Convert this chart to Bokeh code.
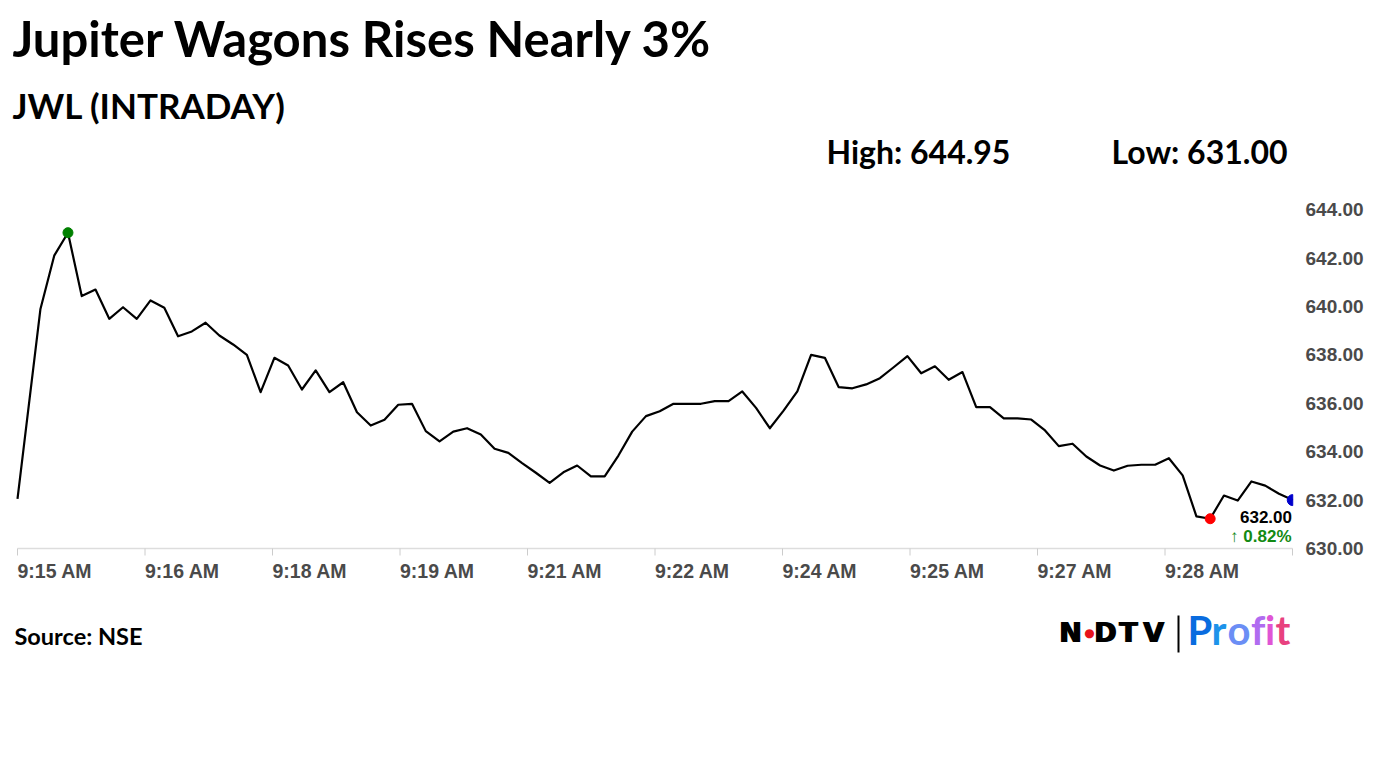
import math
from bokeh.plotting import figure
from bokeh.models import Range1d, Label, LabelSet, ColumnDataSource, Arrow
from bokeh.core.properties import value
from bokeh.embed import file_html
from bokeh.resources import INLINE

# ---------------- data ----------------
title_text = "Jupiter Wagons Rises Nearly 3%"
subtitle_text = "JWL (INTRADAY)"
high_text = "High: 644.95"
low_text = "Low: 631.00"
source_text = "Source: NSE"
last_price_text = "632.00"
change_text = "\u2191 0.82%"

prices = [
    632.05, 639.90, 642.10, 643.05, 640.43, 640.70, 639.49, 639.97, 639.49, 640.25,
    639.95, 638.77, 638.97, 639.33, 638.80, 638.43, 638.00, 636.46, 637.88, 637.56,
    636.57, 637.36, 636.46, 636.87, 635.63, 635.08, 635.32, 635.94, 635.98, 634.85,
    634.43, 634.83, 634.97, 634.71, 634.12, 633.95, 633.53, 633.13, 632.71, 633.15,
    633.43, 632.98, 632.98, 633.84, 634.83, 635.47, 635.67, 635.98, 635.98, 635.98,
    636.09, 636.09, 636.49, 635.81, 634.97, 635.70, 636.49, 638.00, 637.88, 636.67,
    636.62, 636.78, 637.04, 637.49, 637.95, 637.24, 637.53, 636.97, 637.29, 635.84,
    635.84, 635.38, 635.38, 635.33, 634.88, 634.23, 634.33, 633.80, 633.43, 633.22,
    633.42, 633.46, 633.46, 633.73, 633.02, 631.33, 631.23, 632.19, 631.98, 632.77,
    632.60, 632.26, 632.00,
]
# seconds after 9:15:00 (first tick after the open, then a regular sampling interval)
first_gap_s = 16.2
step_s = 9.714
secs = [0.0] + [first_gap_s + step_s * k for k in range(len(prices) - 1)]

tick_secs = [0, 90, 180, 270, 360, 450, 540, 630, 720, 810, 900]
tick_labels = ["9:15 AM", "9:16 AM", "9:18 AM", "9:19 AM", "9:21 AM",
               "9:22 AM", "9:24 AM", "9:25 AM", "9:27 AM", "9:28 AM"]
y_ticks = [630, 632, 634, 636, 638, 640, 642, 644]

# ---------------- layout constants (page pixels) ----------------
W, H = 1376, 700
PLOT_L, PLOT_R = 17, 1292          # page x of first / last time
PLOT_B = 548                       # page y of 630.00
PX_PER_UNIT = 24.2                 # vertical pixels per rupee
px_per_s = (PLOT_R - PLOT_L) / (tick_secs[-1] - tick_secs[0])
y0 = y_ticks[0]

x_range = Range1d(tick_secs[0] - PLOT_L / px_per_s, tick_secs[0] + (W - PLOT_L) / px_per_s)
y_range = Range1d(y0 - (H - PLOT_B) / PX_PER_UNIT, y0 + PLOT_B / PX_PER_UNIT)

p = figure(width=W, height=H, output_backend="svg", toolbar_location=None,
           x_range=x_range, y_range=y_range,
           x_axis_location=None, y_axis_location=None, min_border=0)
p.title.visible = False
p.outline_line_color = None
p.grid.visible = False
p.background_fill_color = "white"
p.border_fill_color = "white"

def sy(py):
    return H - py

AXIS_FONT = value("Liberation Sans")

# ---------------- x axis (line, ticks, left-aligned labels) ----------------
p.segment(x0=[tick_secs[0]], x1=[tick_secs[-1]], y0=[y0], y1=[y0],
          line_color="#dddddd", line_width=1.5)
p.segment(x0=tick_secs, x1=tick_secs, y0=[y0] * len(tick_secs),
          y1=[y0 - 7 / PX_PER_UNIT] * len(tick_secs), line_color="#cccccc", line_width=1)
xsrc = ColumnDataSource(dict(x=tick_secs[:len(tick_labels)], text=tick_labels))
p.add_layout(LabelSet(x="x", y=sy(570.5), y_units="screen", text="text", source=xsrc,
                      text_align="left", text_baseline="middle",
                      text_font=AXIS_FONT, text_font_style="bold",
                      text_font_size="19.5px", text_color="#4a4a4a"))

# ---------------- y axis labels (right) ----------------
ysrc = ColumnDataSource(dict(y=y_ticks, text=[f"{v:.2f}" for v in y_ticks]))
p.add_layout(LabelSet(x=1305, x_units="screen", y="y", text="text", source=ysrc,
                      text_align="left", text_baseline="middle",
                      text_font=AXIS_FONT, text_font_style="bold",
                      text_font_size="19px", text_color="#4a4a4a"))

# ---------------- price line and markers ----------------
p.line(secs, prices, line_color="black", line_width=2.2, line_join="round")

hi_i = max(range(len(prices)), key=lambda i: prices[i])
lo_i = min(range(len(prices)), key=lambda i: prices[i])
p.scatter([secs[hi_i]], [prices[hi_i]], size=10, color="#008000")
p.scatter([secs[lo_i]], [prices[lo_i]], size=10, color="#ff0000")
# last point marker, cut at the right edge of the plotting area
p.wedge(x=[secs[-1]], y=[prices[-1]], radius=5.5, radius_units="screen",
        start_angle=math.pi / 2, end_angle=3 * math.pi / 2,
        fill_color="#0000cc", line_color="#0000cc")

# ---------------- texts ----------------
def lab(text, px, py, size, font="Lato", color="black", align="left", baseline="middle", style="bold"):
    p.add_layout(Label(x=px, y=sy(py), x_units="screen", y_units="screen", text=text,
                       text_font=font, text_font_style=style, text_font_size=size,
                       text_color=color, text_align=align, text_baseline=baseline))

lab(title_text, 12, 37, "49px")
lab(subtitle_text, 12, 104, "35px")
lab(high_text, 826, 151, "32px")
lab(low_text, 1111, 151, "32px")
lab(source_text, 14, 635, "23.5px")

lab(last_price_text, 1291.5, 516, "17px", font="Liberation Sans", align="right")
lab(change_text, 1291, 535.5, "17px", font="Liberation Sans", color="#138a13", align="right")

# logo
for ch, px in zip(["N", "D", "T", "V"], [1058, 1093, 1118, 1142]):
    for dx in (0, 1.5):   # double stroke for the heavy logo lettering
        lab(ch, px + dx, 631.5, "27px", font="DejaVu Sans")
lab("\u25CF", 1089, 632, "12px", font="DejaVu Sans", color="#e8141c", align="center", style="normal")
p.add_layout(Arrow(end=None, x_start=1178, y_start=sy(615), x_end=1178, y_end=sy(652),
                   start_units="screen", end_units="screen", line_color="black", line_width=2))
for ch, px, col in zip(list("Profit"), [1187, 1211, 1227, 1250.5, 1264.5, 1275],
                       ["#0a6cdf", "#1d93ea", "#6b8ef5", "#b06cf0", "#e055d5", "#e8417f"]):
    lab(ch, px, 629, "40px", color=col)

open("out.html", "w").write(file_html(p, INLINE))
